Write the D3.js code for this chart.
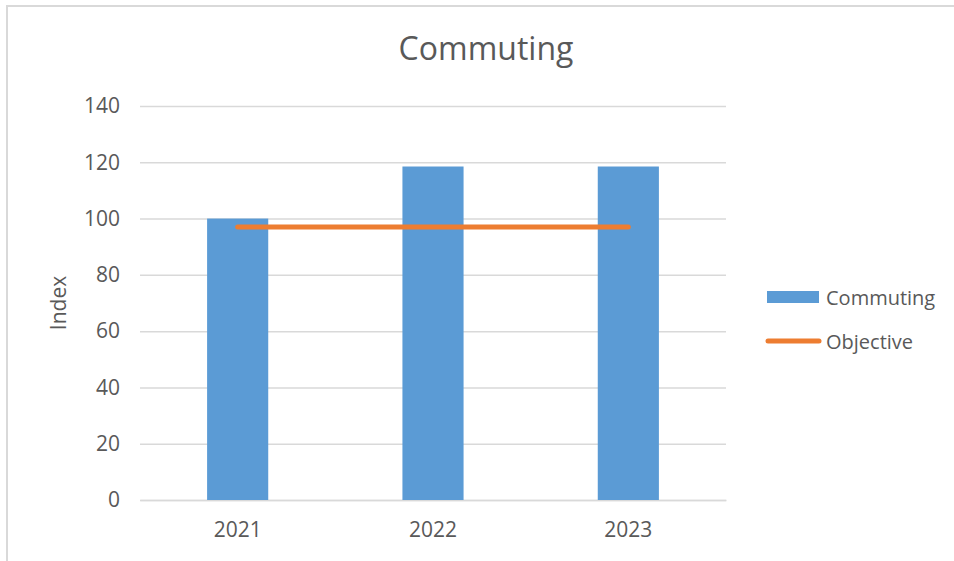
<!DOCTYPE html>
<html>
<head>
<meta charset="utf-8">
<script src="https://cdn.jsdelivr.net/npm/d3@7/dist/d3.min.js"></script>
<style>
  html, body { margin: 0; padding: 0; background: #fff; }
  svg { display: block; font-family: "Open Sans", "Noto Sans", sans-serif; }
</style>
</head>
<body>
<svg id="chart" width="954" height="561"></svg>
<script>
// Chart data
const categories = ["2021", "2022", "2023"];
const commuting = [100, 118.5, 118.5];
const objective = [97, 97, 97];
const yTicks = [0, 20, 40, 60, 80, 100, 120, 140];
const seriesNames = ["Commuting", "Objective"];

const W = 954, H = 561;
const margin = { left: 140, right: 228, top: 106, bottom: 61 };
const plotW = W - margin.left - margin.right;
const plotH = H - margin.top - margin.bottom;

const blue = "#5B9BD5", orange = "#ED7D31", grid = "#D9D9D9", textCol = "#595959";

const svg = d3.select("#chart");

// Outer chart frame (runs past the right and bottom edges)
svg.append("rect")
  .attr("x", 7).attr("y", 6)
  .attr("width", 1000).attr("height", 1000)
  .attr("fill", "none").attr("stroke", grid).attr("stroke-width", 2);

// Title
svg.append("text")
  .attr("x", 486).attr("y", 60)
  .attr("text-anchor", "middle")
  .attr("font-size", 32)
  .attr("fill", textCol)
  .text("Commuting");

const g = svg.append("g").attr("transform", `translate(${margin.left},${margin.top})`);

const x = d3.scaleBand().domain(categories).range([0, plotW]).padding(0);
const y = d3.scaleLinear().domain([0, 140]).range([plotH, 0]);

// Horizontal gridlines with value labels
const yAxis = d3.axisLeft(y).tickValues(yTicks).tickSize(-plotW).tickPadding(20);
const yg = g.append("g").call(yAxis);
yg.select(".domain").remove();
yg.selectAll(".tick line").attr("stroke", grid).attr("stroke-width", 1.5);
yg.selectAll(".tick text")
  .attr("font-size", 21).attr("fill", textCol)
  .attr("font-family", "'Open Sans', 'Noto Sans', sans-serif");

// Category axis
const xAxis = d3.axisBottom(x).tickSize(0).tickPadding(22);
const xg = g.append("g").attr("transform", `translate(0,${plotH})`).call(xAxis);
xg.select(".domain").attr("stroke", grid).attr("stroke-width", 1.5);
xg.selectAll(".tick text")
  .attr("font-size", 21).attr("fill", textCol)
  .attr("font-family", "'Open Sans', 'Noto Sans', sans-serif");

// Bars
const barW = x.bandwidth() * 0.313;
g.selectAll("rect.bar")
  .data(commuting)
  .join("rect")
  .attr("class", "bar")
  .attr("x", (d, i) => x(categories[i]) + x.bandwidth() / 2 - barW / 2)
  .attr("y", d => y(d))
  .attr("width", barW)
  .attr("height", d => plotH - y(d))
  .attr("fill", blue);

// Objective line
const line = d3.line()
  .x((d, i) => x(categories[i]) + x.bandwidth() / 2)
  .y(d => y(d));
g.append("path")
  .datum(objective)
  .attr("d", line)
  .attr("fill", "none")
  .attr("stroke", orange)
  .attr("stroke-width", 5)
  .attr("stroke-linecap", "round");

// Y axis title
svg.append("text")
  .attr("transform", `translate(66,${margin.top + plotH / 2}) rotate(-90)`)
  .attr("text-anchor", "middle")
  .attr("font-size", 21)
  .attr("fill", textCol)
  .text("Index");

// Legend
const lg = svg.append("g");
lg.append("rect")
  .attr("x", 767).attr("y", 291).attr("width", 52).attr("height", 12)
  .attr("fill", blue);
lg.append("text")
  .attr("x", 826).attr("y", 297).attr("dominant-baseline", "central")
  .attr("font-size", 20).attr("fill", textCol)
  .text(seriesNames[0]);
lg.append("line")
  .attr("x1", 768).attr("x2", 819).attr("y1", 341).attr("y2", 341)
  .attr("stroke", orange).attr("stroke-width", 5).attr("stroke-linecap", "round");
lg.append("text")
  .attr("x", 826).attr("y", 341).attr("dominant-baseline", "central")
  .attr("font-size", 20).attr("fill", textCol)
  .text(seriesNames[1]);
</script>
</body>
</html>
